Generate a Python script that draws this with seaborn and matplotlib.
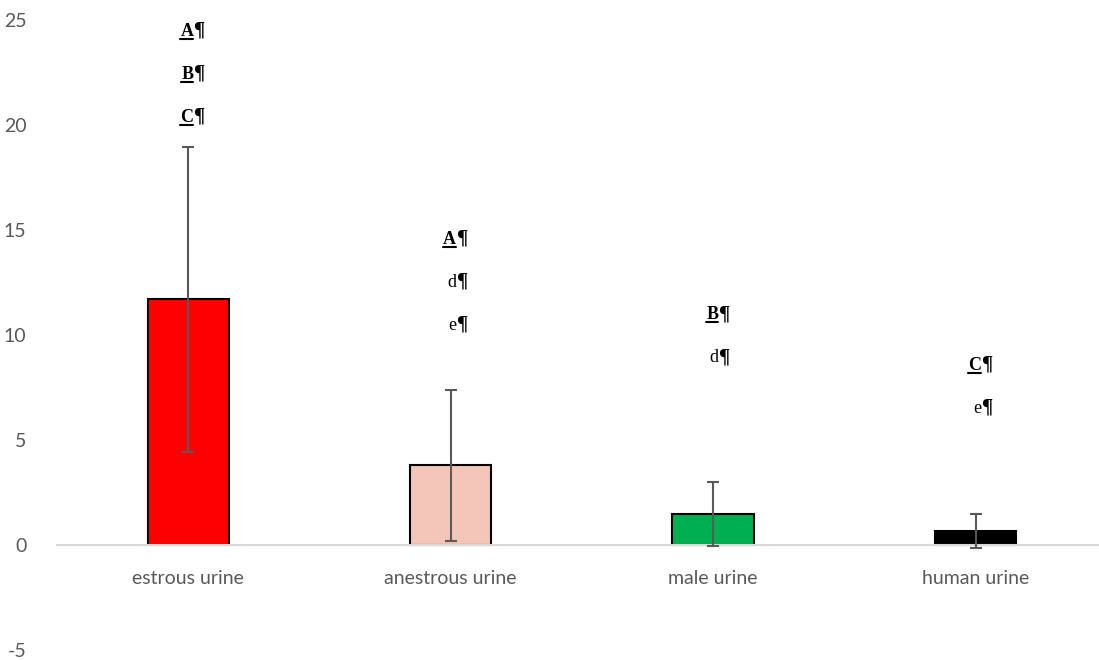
import seaborn as sns
import pandas as pd
import numpy as np
import matplotlib.pyplot as plt
from matplotlib.lines import Line2D

# data
categories = ['estrous urine', 'anestrous urine', 'male urine', 'human urine']
means = [11.7, 3.8, 1.48, 0.67]
sds = [7.25, 3.6, 1.52, 0.8]
bar_colors = ['#FF0000', '#F4C6B9', '#00B050', '#000000']

# significance letters above each bar (top to bottom), underlined = capital
letters = [['A', 'B', 'C'], ['A', 'd', 'e'], ['B', 'd'], ['C', 'e']]
letter_top = [24.6, 14.7, 11.1, 8.7]

sns.set_style('white')
plt.rcParams['font.family'] = ['Lato', 'DejaVu Sans']
plt.rcParams['axes.unicode_minus'] = False

fig = plt.figure(figsize=(10.99, 6.6), dpi=100)
ax = fig.add_axes([57/1099, 10/660, 1 - 57/1099, 630/660])

df = pd.DataFrame({'cat': categories, 'mean': means})
sns.barplot(data=df, x='cat', y='mean', hue='cat', palette=bar_colors,
            legend=False, width=0.31, edgecolor='black', linewidth=1.5,
            saturation=1, ax=ax)
ax.errorbar(np.arange(len(categories)), means, yerr=sds, fmt='none',
            ecolor='#595959', elinewidth=1.5, capsize=4, capthick=1.5, zorder=5)

under = []
for i, labs in enumerate(letters):
    for j, lab in enumerate(labs):
        y = letter_top[i] - j * 2.05 - 0.35
        t = ax.text(i + 0.02, y, lab, ha='right', va='baseline', fontsize=13,
                    fontweight='bold' if lab.isupper() else 'normal',
                    family='Liberation Serif', color='black')
        ax.text(i + 0.02, y, '¶', ha='left', va='baseline', fontsize=15,
                fontweight='bold', family='Liberation Serif', color='black')
        if lab.isupper():
            under.append(t)

ax.set_ylim(-5, 25)
ax.set_xlim(-0.5, 3.47)
ax.set_yticks(range(-5, 26, 5))
for s in ['top', 'right', 'left']:
    ax.spines[s].set_visible(False)
ax.spines['bottom'].set_position(('data', 0))
ax.spines['bottom'].set_color('#D9D9D9')
ax.spines['bottom'].set_linewidth(1.5)
ax.tick_params(axis='x', length=0, pad=18, labelsize=14, labelcolor='#595959')
ax.tick_params(axis='y', length=0, pad=22, labelsize=14, labelcolor='#595959')
ax.set_xlabel('')
ax.set_ylabel('')

# underline the capital letters
fig.canvas.draw()
r = fig.canvas.get_renderer()
inv = fig.transFigure.inverted()
for t in under:
    bb = t.get_window_extent(r)
    x0, y0 = inv.transform((bb.x0, bb.y0 + 1))
    x1, _ = inv.transform((bb.x1, bb.y0 + 1))
    fig.add_artist(Line2D([x0, x1], [y0, y0], color='black', lw=1.5))

fig.savefig('out.png', dpi=100)
